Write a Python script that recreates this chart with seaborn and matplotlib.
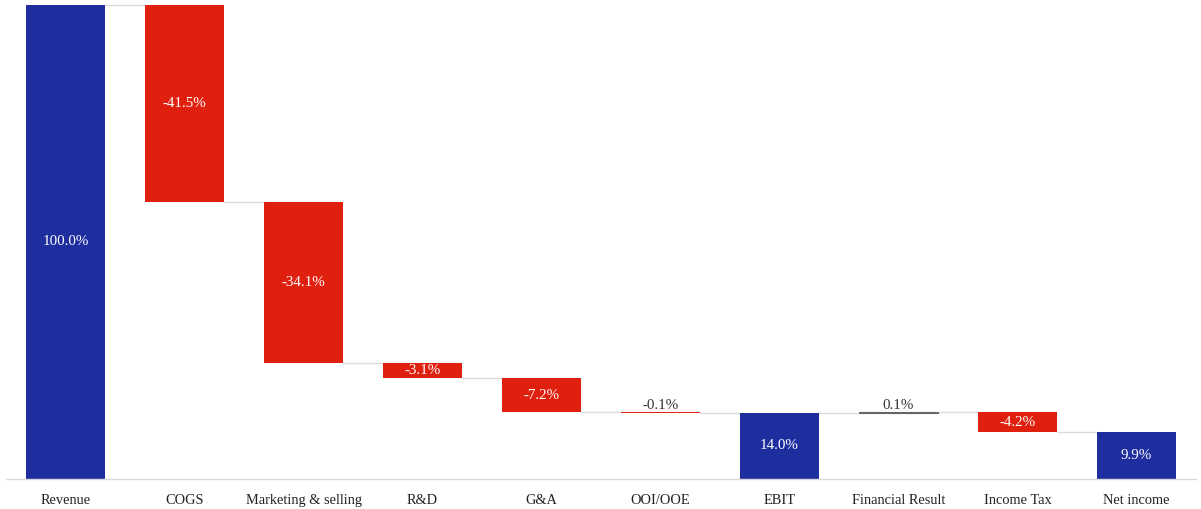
import matplotlib
matplotlib.use("Agg")
import matplotlib.pyplot as plt
import seaborn as sns
import numpy as np

categories = ["Revenue", "COGS", "Marketing & selling", "R&D", "G&A",
              "OOI/OOE", "EBIT", "Financial Result", "Income Tax", "Net income"]
values = [100.0, -41.5, -34.1, -3.1, -7.2, -0.1, 14.0, 0.1, -4.2, 9.9]
kinds = ["total", "delta", "delta", "delta", "delta", "delta", "total", "delta", "delta", "total"]

BLUE = "#1f2e9e"
RED = "#e0200f"
GREY = "#666666"

sns.set_theme(style="white")
plt.rcParams["font.family"] = ["Liberation Serif", "DejaVu Serif"]

# compute waterfall bottoms/heights
bottoms, heights, colors, ends = [], [], [], []
running = 0.0
for v, k in zip(values, kinds):
    if k == "total":
        bottoms.append(0.0)
        heights.append(v)
        colors.append(BLUE)
        running = v
    else:
        start = running
        running = round(running + v, 4)
        bottoms.append(min(start, running))
        heights.append(abs(v))
        colors.append(RED if v < 0 else GREY)
    ends.append(running)

fig = plt.figure(figsize=(12.01, 5.09), dpi=100)
ax = fig.add_axes([6 / 1201, 30 / 509, 1190 / 1201, 479 / 509])

sns.barplot(x=categories, y=heights, bottom=bottoms, color=BLUE, width=0.66,
            ax=ax, saturation=1)
for p, c in zip(ax.patches, colors):
    p.set_facecolor(c)
    p.set_edgecolor(c)
    if c == GREY:
        p.set_linewidth(0.8)
    else:
        p.set_linewidth(0)

# connectors
for i in range(len(categories) - 1):
    y = ends[i]
    ax.plot([i + 0.33, i + 1 - 0.33], [y, y], color="#dcdcdc", lw=1, zorder=0)

# labels
for i, (b, h, v) in enumerate(zip(bottoms, heights, values)):
    txt = f"{v:.1f}%"
    if h < 1:
        ax.text(i, b + h + 0.1, txt, ha="center", va="bottom", color="#333333", fontsize=10.8)
    else:
        ax.text(i, b + h / 2, txt, ha="center", va="center", color="white", fontsize=10.8)

ax.set_xlim(-0.5, 9.5)
ax.set_ylim(0, 101)
ax.set_yticks([])
for s in ["top", "right", "left"]:
    ax.spines[s].set_visible(False)
ax.spines["bottom"].set_color("#d8d8d8")
ax.spines["bottom"].set_linewidth(1)
ax.tick_params(axis="x", length=0, pad=11, labelsize=10.4, colors="#222222")
ax.set_xlabel("")
ax.set_ylabel("")

fig.savefig("out.png", dpi=100, facecolor="white")
